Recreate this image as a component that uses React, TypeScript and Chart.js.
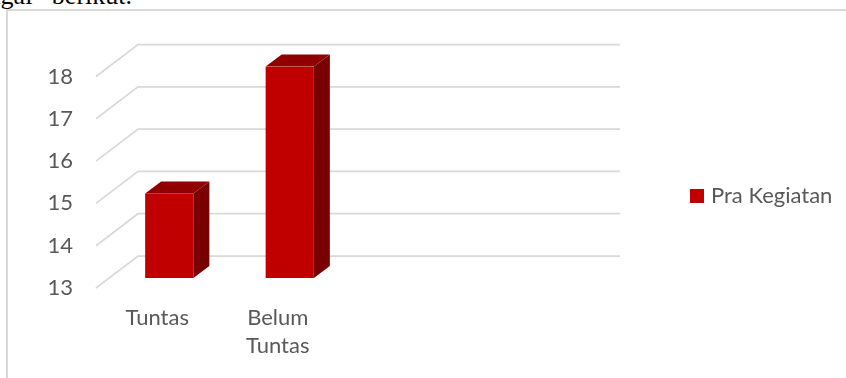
import React, { useEffect, useRef } from "react";
import { Chart, registerables } from "chart.js";

Chart.register(...registerables);

// ---- data ----
const categories: (string | string[])[] = ["Tuntas", ["Belum", "Tuntas"], "", ""];
const seriesLabel = "Pra Kegiatan";
const seriesValues: (number | null)[] = [15, 18, null, null];
const yTickValues = [13, 14, 15, 16, 17, 18];
const yMin = 13;
const yMax = 18;

// ---- styles ----
const FONT = "Lato, 'Open Sans', sans-serif";
const TEXT = "#595959";
const GRID = "#d9d9d9";
const FRONT = "#c00000";
const TOP = "#900000";
const SIDE = "#7a0000";

// 3D geometry relative to the bar front plane
const FRONT_EDGE = { dx: -13, dy: 10 };
const BACK_WALL = { dx: 29, dy: -22 };
const BAR_DEPTH = { dx: 16, dy: -12 };

const threeD = {
  id: "threeD",
  beforeDatasetsDraw(chart: any) {
    const { ctx, chartArea, scales } = chart;
    const y = scales.y;
    ctx.save();
    ctx.strokeStyle = GRID;
    ctx.lineWidth = 1.75;
    for (const t of y.ticks) {
      const py = y.getPixelForValue(t.value);
      ctx.beginPath();
      ctx.moveTo(chartArea.left + FRONT_EDGE.dx, py + FRONT_EDGE.dy);
      ctx.lineTo(chartArea.left + BACK_WALL.dx, py + BACK_WALL.dy);
      ctx.lineTo(chartArea.right + BACK_WALL.dx, py + BACK_WALL.dy);
      ctx.stroke();
    }
    ctx.restore();
  },
  afterDatasetsDraw(chart: any) {
    const { ctx, chartArea } = chart;
    const meta = chart.getDatasetMeta(0);
    const data = chart.data.datasets[0].data;
    ctx.save();
    meta.data.forEach((bar: any, i: number) => {
      if (data[i] == null) return;
      const { x, y, base, width } = bar.getProps(["x", "y", "base", "width"], true);
      const b = Math.min(base, chartArea.bottom);
      const l = x - width / 2;
      const r = x + width / 2;
      const { dx, dy } = BAR_DEPTH;
      // side face
      ctx.fillStyle = SIDE;
      ctx.beginPath();
      ctx.moveTo(r, y);
      ctx.lineTo(r + dx, y + dy);
      ctx.lineTo(r + dx, b + dy);
      ctx.lineTo(r, b);
      ctx.closePath();
      ctx.fill();
      // top face
      ctx.fillStyle = TOP;
      ctx.beginPath();
      ctx.moveTo(l, y);
      ctx.lineTo(l + dx, y + dy);
      ctx.lineTo(r + dx, y + dy);
      ctx.lineTo(r, y);
      ctx.closePath();
      ctx.fill();
    });
    ctx.restore();
  },
  afterDraw(chart: any) {
    const { ctx } = chart;
    const ds = chart.data.datasets[0];
    ctx.save();
    ctx.fillStyle = ds.backgroundColor;
    ctx.fillRect(690, 189, 14, 14);
    ctx.fillStyle = TEXT;
    ctx.font = `22px ${FONT}`;
    ctx.textBaseline = "middle";
    ctx.textAlign = "left";
    ctx.fillText(ds.label, 711, 196);
    ctx.restore();
  },
};

export default function App() {
  const ref = useRef<HTMLCanvasElement>(null);
  useEffect(() => {
    if (!ref.current) return;
    const chart = new Chart(ref.current, {
      type: "bar",
      data: {
        labels: categories as any,
        datasets: [
          {
            label: seriesLabel,
            data: seriesValues,
            backgroundColor: FRONT,
            categoryPercentage: 1,
            barPercentage: 0.4,
          },
        ],
      },
      options: {
        animation: false,
        responsive: false,
        devicePixelRatio: 1,
        layout: { padding: { left: 0, top: 66.5, right: 255, bottom: 0 } },
        plugins: { legend: { display: false }, tooltip: { enabled: false } },
        scales: {
          x: {
            grid: { display: false, drawTicks: false },
            border: { display: false },
            ticks: {
              font: { family: FONT, size: 22, lineHeight: 1.28 },
              color: TEXT,
              padding: 26,
              labelOffset: -12,
              maxRotation: 0,
              autoSkip: false,
            },
            afterFit: (s: any) => {
              s.height = 100;
            },
          },
          y: {
            min: yMin,
            max: yMax,
            grid: { display: false, drawTicks: false },
            border: { display: false },
            ticks: {
              font: { family: FONT, size: 22 },
              color: TEXT,
              padding: 36,
              labelOffset: 10,
            },
            afterBuildTicks: (s: any) => {
              s.ticks = yTickValues.map((v) => ({ value: v }));
            },
            afterFit: (s: any) => {
              s.width = 109;
            },
          },
        },
      },
      plugins: [threeD],
    });
    return () => chart.destroy();
  }, []);

  return (
    <div
      style={{
        position: "fixed",
        left: 0,
        top: 0,
        width: 846,
        height: 378,
        overflow: "hidden",
        background: "#fff",
      }}
    >
      <div
        style={{
          position: "absolute",
          right: 714,
          top: -17,
          whiteSpace: "nowrap",
          fontFamily: "'Liberation Serif', 'Times New Roman', serif",
          fontSize: 26,
          lineHeight: "26px",
          wordSpacing: 13,
          color: "#000",
        }}
      >
        sebagai berikut.
      </div>
      <div
        style={{
          position: "absolute",
          left: 6,
          top: 9,
          width: 900,
          height: 420,
          border: "2px solid #d9d9d9",
          boxSizing: "border-box",
        }}
      />
      <canvas
        ref={ref}
        width={846}
        height={378}
        style={{ position: "absolute", left: 0, top: 0, width: 846, height: 378 }}
      />
    </div>
  );
}
